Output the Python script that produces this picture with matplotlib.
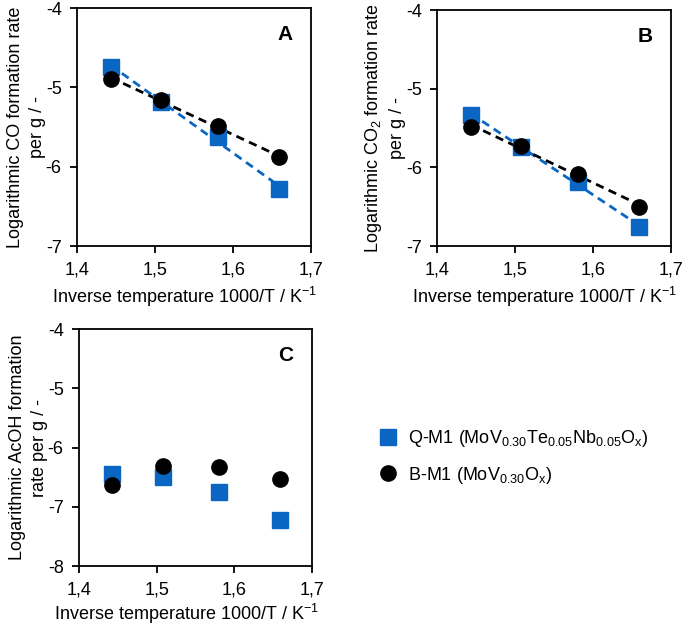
import matplotlib
matplotlib.use('Agg')
import matplotlib.pyplot as plt
from matplotlib.lines import Line2D
import numpy as np

plt.rcParams['font.family'] = ['Liberation Sans', 'DejaVu Sans']
plt.rcParams['mathtext.default'] = 'regular'

# Inverse temperature 1000/T / K^-1
inv_temp = [1.443, 1.508, 1.581, 1.659]

# Logarithmic formation rates per g
co_qm1 = [-4.74, -5.18, -5.63, -6.28]
co_bm1 = [-4.89, -5.16, -5.49, -5.88]
co2_qm1 = [-5.33, -5.74, -6.19, -6.76]
co2_bm1 = [-5.49, -5.73, -6.08, -6.50]
acoh_qm1 = [-6.44, -6.49, -6.75, -7.22]
acoh_bm1 = [-6.64, -6.32, -6.33, -6.53]

labels = ['Q-M1 (MoV$_{0.30}$Te$_{0.05}$Nb$_{0.05}$O$_{x}$)',
          'B-M1 (MoV$_{0.30}$O$_{x}$)']
blue = '#0A66C2'
fs = 13


def draw_panel(ax, qm1, bm1, ylim, yticks, ylabel, letter, fit, xlab_y=-0.165):
    x = np.array(inv_temp)
    if fit:
        for y, c in [(qm1, blue), (bm1, 'black')]:
            k, d = np.polyfit(x, y, 1)
            ax.plot(x, k * x + d, '--', color=c, lw=2, dashes=(3, 2), zorder=2)
    ax.plot(x, qm1, 's', color=blue, ms=11, zorder=3)
    ax.plot(x, bm1, 'o', color='black', ms=11, zorder=4)
    ax.set_xlim(1.4, 1.7)
    ax.set_ylim(*ylim)
    ax.set_xticks([1.4, 1.5, 1.6, 1.7])
    ax.set_xticklabels(['1,4', '1,5', '1,6', '1,7'])
    ax.set_yticks(yticks)
    ax.set_yticklabels([str(t) for t in yticks])
    ax.tick_params(direction='out', labelsize=fs, length=5, width=1.3, pad=6)
    for s in ax.spines.values():
        s.set_linewidth(1.3)
    ax.set_xlabel('Inverse temperature 1000/T / K$^{-1}$', fontsize=fs)
    ax.xaxis.set_label_coords(0.46, xlab_y)
    ax.set_ylabel(ylabel, fontsize=fs, labelpad=0, linespacing=1.35)
    ax.text(0.92, 0.93, letter, transform=ax.transAxes, ha='right', va='top',
            fontsize=15, fontweight='bold')


fig = plt.figure(figsize=(6.85, 6.26), dpi=100)
ax_a = fig.add_axes([0.1124, 0.607, 0.3416, 0.380])
ax_b = fig.add_axes([0.638, 0.607, 0.3416, 0.377])
ax_c = fig.add_axes([0.1153, 0.0958, 0.340, 0.3786])

draw_panel(ax_a, co_qm1, co_bm1, (-7, -4), [-7, -6, -5, -4],
           'Logarithmic CO formation rate\nper g / -', 'A', True)
draw_panel(ax_b, co2_qm1, co2_bm1, (-7, -4), [-7, -6, -5, -4],
           'Logarithmic CO$_2$ formation rate\nper g / -', 'B', True)
draw_panel(ax_c, acoh_qm1, acoh_bm1, (-8, -4), [-8, -7, -6, -5, -4],
           'Logarithmic AcOH formation\nrate per g / -', 'C', False, xlab_y=-0.152)

handles = [Line2D([], [], ls='none', marker='s', color=blue, ms=11),
           Line2D([], [], ls='none', marker='o', color='black', ms=11)]
fig.legend(handles, labels, loc='upper left', bbox_to_anchor=(0.53, 0.342),
           frameon=False, fontsize=fs, handletextpad=0.6, labelspacing=0.85,
           handlelength=1.0)

fig.savefig('out.png', dpi=100)
